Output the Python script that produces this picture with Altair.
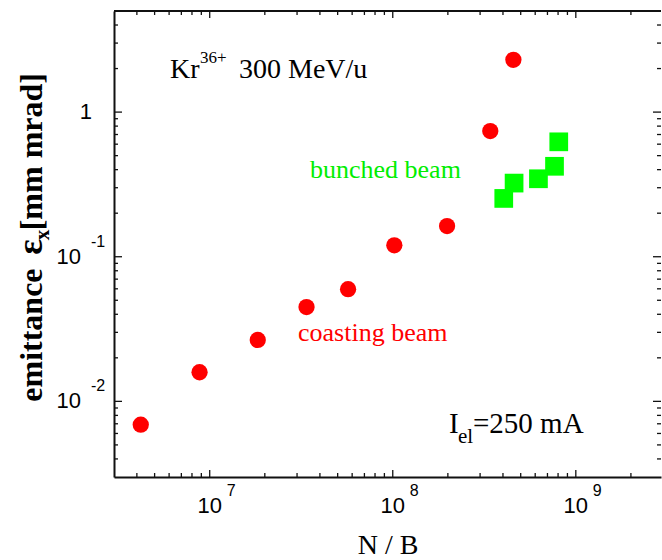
import altair as alt
import pandas as pd

# ---- data ----
coast_nb = [4.2e6, 8.8e6, 1.83e7, 3.38e7, 5.7e7, 1.02e8, 1.98e8, 3.41e8, 4.56e8]
coast_eps = [0.0069, 0.0159, 0.0266, 0.0449, 0.0597, 0.120, 0.163, 0.739, 2.30]
bunch_nb = [4.04e8, 4.6e8, 6.25e8, 7.65e8, 8.07e8]
bunch_eps = [0.253, 0.323, 0.346, 0.422, 0.623]

x_major = [1e7, 1e8, 1e9]
x_major_sup = ["7", "8", "9"]
x_minor = [4e6, 5e6, 6e6, 7e6, 8e6, 9e6,
           2e7, 3e7, 4e7, 5e7, 6e7, 7e7, 8e7, 9e7,
           2e8, 3e8, 4e8, 5e8, 6e8, 7e8, 8e8, 9e8,
           2e9]
y_major = [0.01, 0.1, 1.0]
y_minor = [4e-3, 5e-3, 6e-3, 7e-3, 8e-3, 9e-3,
           0.02, 0.03, 0.04, 0.05, 0.06, 0.07, 0.08, 0.09,
           0.2, 0.3, 0.4, 0.5, 0.6, 0.7, 0.8, 0.9,
           2.0, 3.0, 4.0]
y_pow_vals = [0.1, 0.01]
y_pow_sup = ["-1", "-2"]

W, H = 547, 466
XDOM = [3e6, 2.92e9]
YDOM = [3e-3, 5.0]
SERIF = "Liberation Serif"
SANS = "Liberation Sans"
INK = "#111111"

xscale = alt.Scale(type="log", domain=XDOM, nice=False)
yscale = alt.Scale(type="log", domain=YDOM, nice=False)
xaxis = alt.Axis(title="N / B", labels=False, ticks=False, grid=False, domain=True,
                 domainColor=INK, domainWidth=2, titleFont=SERIF, titleFontSize=28,
                 titleFontWeight="normal", titleColor="black", titleY=76,
                 titleBaseline="alphabetic")
yaxis = alt.Axis(title="", labels=False, ticks=False, grid=False, domain=True,
                 domainColor=INK, domainWidth=2)


def X(f):
    return alt.X(f"{f}:Q", scale=xscale, axis=xaxis)


def Y(f):
    return alt.Y(f"{f}:Q", scale=yscale, axis=yaxis)


def df(col, vals):
    return pd.DataFrame({col: vals})


coast = pd.DataFrame({"nb": coast_nb, "eps": coast_eps})
bunch = pd.DataFrame({"nb": bunch_nb, "eps": bunch_eps})

pts_coast = alt.Chart(coast).mark_circle(size=265, color="#ff0000", opacity=1).encode(
    x=X("nb"), y=Y("eps"))
pts_bunch = alt.Chart(bunch).mark_square(size=350, color="#00ff00", opacity=1).encode(
    x=X("nb"), y=Y("eps"))

layers = [pts_coast, pts_bunch]


def rule_x(vals, y0, y1):
    return alt.Chart(df("v", vals)).mark_rule(color=INK, strokeWidth=1.3).encode(
        x=X("v"), y=alt.value(y0), y2=alt.value(y1))


def rule_y(vals, x0, x1):
    return alt.Chart(df("v", vals)).mark_rule(color=INK, strokeWidth=1.3).encode(
        y=Y("v"), x=alt.value(x0), x2=alt.value(x1))


layers += [
    rule_x(x_major, H, H - 7), rule_x(x_minor, H, H - 4),
    rule_x(x_major, 0, 7), rule_x(x_minor, 0, 4),
    rule_y(y_major, 0, 8), rule_y(y_minor, 0, 4),
    rule_y(y_major, W, W - 8), rule_y(y_minor, W, W - 4),
]

# top frame line
layers.append(alt.Chart(df("t", [""])).mark_rule(color=INK, strokeWidth=2).encode(
    x=alt.value(0), x2=alt.value(W), y=alt.value(0)))

# x tick labels: 10 with superscript exponent
xl = pd.DataFrame({"v": x_major, "main": ["10"] * 3, "sup": x_major_sup})
layers.append(alt.Chart(xl).mark_text(font=SANS, fontSize=22, color="black",
                                      align="center", baseline="alphabetic").encode(
    x=X("v"), y=alt.value(502), text="main:N"))
layers.append(alt.Chart(xl).mark_text(font=SANS, fontSize=16, color="black",
                                      align="left", baseline="alphabetic", dx=17).encode(
    x=X("v"), y=alt.value(485), text="sup:N"))

# y tick labels
layers.append(alt.Chart(df("v", [1.0])).mark_text(font=SANS, fontSize=22, color="black",
                                                  align="right", baseline="middle").encode(
    y=Y("v"), x=alt.value(92 - 114), text=alt.value("1")))
yl = pd.DataFrame({"v": y_pow_vals, "main": ["10"] * 2, "sup": y_pow_sup})
layers.append(alt.Chart(yl).mark_text(font=SANS, fontSize=22, color="black",
                                      align="right", baseline="middle").encode(
    y=Y("v"), x=alt.value(81 - 114), text="main:N"))
layers.append(alt.Chart(yl).mark_text(font=SANS, fontSize=16, color="black",
                                      align="left", baseline="alphabetic", dy=-10).encode(
    y=Y("v"), x=alt.value(91 - 114), text="sup:N"))


def txt(s, x, y, size, font=SERIF, weight="normal", color="black", align="left",
        baseline="alphabetic", angle=0):
    kw = dict(font=font, fontSize=size, fontWeight=weight, color=color, align=align,
              baseline=baseline)
    if angle:
        kw["angle"] = angle
    return alt.Chart(df("t", [s])).mark_text(**kw).encode(
        x=alt.value(x), y=alt.value(y), text="t:N")


# y title (rotated, with subscript)
layers += [
    txt("emittance", 42 - 114, 401.7 - 11, 32, weight="bold", angle=270),
    txt("ε", 42 - 114, 247 - 11, 36, weight="bold", align="center", angle=270),
    txt("x", 49 - 114, 235 - 11, 21, weight="bold", align="center", angle=270),
    txt("[mm mrad]", 42 - 114, 73 - 11, 32, weight="bold", align="right", angle=270),
]

# annotations
layers += [
    txt("Kr", 170 - 114, 78 - 11, 28),
    txt("36+", 200 - 114, 63 - 11, 17),
    txt("300 MeV/u", 239 - 114, 78 - 11, 28),
    txt("bunched beam", 310 - 114, 178 - 11, 26, color="#00ee00"),
    txt("coasting beam", 298 - 114, 341 - 11, 26, color="#ff0000"),
    txt("I", 449 - 114, 433 - 11, 29),
    txt("el", 458 - 114, 443 - 11, 21),
    txt("=250 mA", 473 - 114, 433 - 11, 29),
]

chart = alt.layer(*layers).properties(
    width=W, height=H,
    autosize=alt.AutoSizeParams(type="none"),
    padding={"left": 114, "top": 11, "right": 1, "bottom": 83},
    background="white",
).configure_view(stroke=None)

chart.save("out.html", embed_options={"renderer": "svg", "actions": False})
